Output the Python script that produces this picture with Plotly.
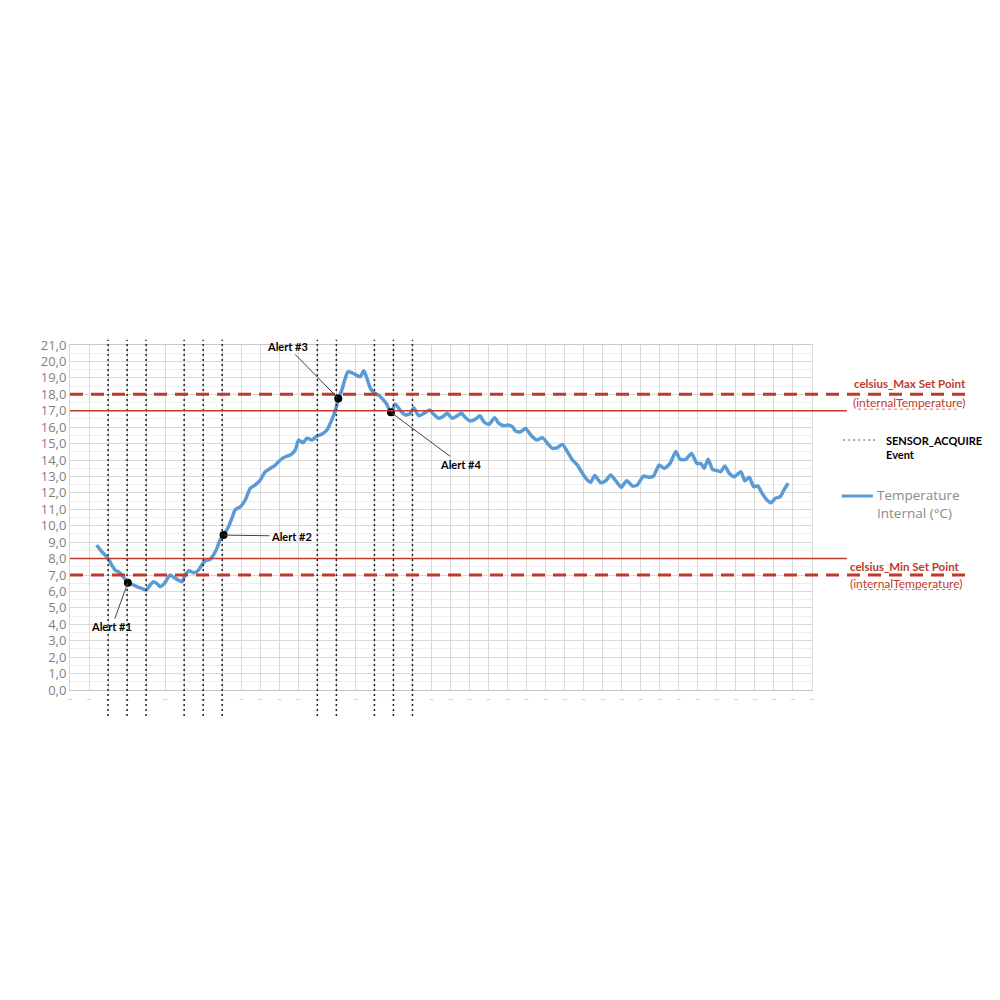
import plotly.graph_objects as go

# sample index (one gridline column per unit) and internal temperature, °C
time_idx = [
    1.40, 1.67, 1.84, 2.05, 2.19, 2.37, 2.54, 2.68, 2.86, 3.04,
    3.33, 3.60, 3.77, 4.00, 4.21, 4.39, 4.56, 4.74, 4.96, 5.26,
    5.44, 5.70, 5.88, 6.05, 6.26, 6.49, 6.72, 6.93, 7.11, 7.37,
    7.54, 7.72, 7.89, 8.07,
    8.33, 8.51, 8.68, 8.95, 9.21, 9.47, 9.74, 10.00, 10.26, 10.53,
    10.79, 11.05, 11.32, 11.58, 11.84, 12.02, 12.23, 12.46, 12.72, 12.98,
    13.25, 13.51, 13.68, 13.86, 14.00, 14.10, 14.26, 14.44, 14.61, 14.82,
    15.04, 15.26, 15.44, 15.61, 15.79, 16.02, 16.23, 16.40, 16.62, 16.87,
    17.10, 17.37, 17.63, 17.89, 18.07, 18.33, 18.60, 18.91, 19.12, 19.38,
    19.65, 19.82, 20.09, 20.35, 20.58, 20.79, 21.05, 21.32, 21.54, 21.75,
    22.02, 22.32, 22.54, 22.81, 23.02, 23.25, 23.42, 23.68, 23.95, 24.12,
    24.30, 24.56, 24.83, 25.09, 25.35, 25.62, 25.88, 26.14, 26.41, 26.67,
    26.93, 27.19, 27.37, 27.58, 27.89, 28.16, 28.42, 28.68, 28.98, 29.26,
    29.56, 29.82, 30.14, 30.39, 30.67, 30.96, 31.23, 31.54, 31.84, 32.07,
    32.37, 32.67, 32.95, 33.16, 33.33, 33.54, 33.77, 34.04, 34.21, 34.42,
    34.65, 34.91, 35.26, 35.47, 35.70, 35.93, 36.14, 36.40, 36.63, 36.84,
    37.07, 37.33, 37.54, 37.75,
]
temp_c = [
    8.83, 8.42, 8.22, 7.91, 7.61, 7.30, 7.20, 7.06, 6.80, 6.53,
    6.39, 6.25, 6.19, 6.09, 6.39, 6.59, 6.49, 6.29, 6.49, 7.00,
    6.86, 6.69, 6.59, 7.00, 7.26, 7.14, 7.26, 7.61, 7.87, 7.95,
    8.22, 8.62, 9.13, 9.43,
    9.94, 10.45, 10.96, 11.16, 11.56, 12.28, 12.48, 12.78, 13.29, 13.49,
    13.69, 14.00, 14.20, 14.30, 14.61, 15.22, 15.05, 15.32, 15.22, 15.46,
    15.58, 15.83, 16.23, 16.74, 17.24, 17.75, 18.16, 18.87, 19.37, 19.31,
    19.17, 19.07, 19.43, 18.97, 18.36, 18.06, 17.95, 17.75, 17.45, 16.90,
    17.40, 17.00, 16.74, 16.84, 17.18, 16.69, 16.84, 17.04, 16.78, 16.54,
    16.69, 16.84, 16.54, 16.69, 16.84, 16.57, 16.37, 16.49, 16.69, 16.33,
    16.17, 16.57, 16.23, 16.09, 16.13, 16.03, 15.76, 15.72, 15.92, 15.68,
    15.42, 15.22, 15.36, 15.02, 14.71, 14.75, 14.95, 14.51, 14.00, 13.69,
    13.19, 12.78, 12.64, 13.05, 12.62, 12.74, 13.09, 12.74, 12.34, 12.74,
    12.42, 12.48, 13.02, 12.95, 13.02, 13.69, 13.49, 13.79, 14.51, 14.04,
    14.04, 14.40, 13.79, 13.79, 13.49, 14.04, 13.43, 13.35, 13.29, 13.63,
    13.19, 12.98, 13.29, 12.74, 12.95, 12.38, 12.42, 11.93, 11.56, 11.40,
    11.67, 11.77, 12.21, 12.58,
]

# SENSOR_ACQUIRE events
event_idx = [2, 3, 4, 6, 7, 8, 13, 14, 16, 17, 18]

# alerts
alert_names = ["Alert #1", "Alert #2", "Alert #3", "Alert #4"]
alert_idx = [3.04, 8.07, 14.10, 16.87]
alert_temp = [6.53, 9.43, 17.75, 16.90]
alert_offsets = [(-16, 44), (68, 1), (-51, -52), (70, 52)]  # label offset in px

# set points
max_set_point = 18.0
max_clear = 17.0
min_clear = 8.0
min_set_point = 7.0

y_ticks = list(range(0, 22))
y_labels = [f"{v},0" for v in y_ticks]
x_ticks = list(range(0, 40))

RED = "#c0392b"
BLUE = "#5b9bd5"
CAL = "Lato, 'Liberation Sans', sans-serif"

fig = go.Figure()

fig.add_trace(go.Scatter(
    x=time_idx, y=temp_c, mode="lines",
    line=dict(color=BLUE, width=3.5, shape="spline", smoothing=0.6),
    name="Temperature Internal (°C)", hoverinfo="skip",
))
fig.add_trace(go.Scatter(
    x=alert_idx, y=alert_temp, mode="markers",
    marker=dict(color="black", size=8), hoverinfo="skip",
))

shapes = []
for e in event_idx:
    shapes.append(dict(type="line", xref="x", yref="paper", x0=e, x1=e, y0=-0.075, y1=1.015,
                       line=dict(color="#222222", width=1.5, dash="2px,3px")))
for v in [max_clear, min_clear]:
    shapes.append(dict(type="line", xref="paper", yref="y", x0=0, x1=1.047, y0=v, y1=v,
                       line=dict(color=RED, width=1.5)))
for v in [max_set_point, min_set_point]:
    shapes.append(dict(type="line", xref="paper", yref="y", x0=0, x1=1.21, y0=v, y1=v,
                       line=dict(color=RED, width=3, dash="13px,8px")))

# legend samples
shapes.append(dict(type="line", xref="paper", yref="paper", x0=1.042, x1=1.085, y0=0.7246, y1=0.7246,
                   line=dict(color="#555555", width=1, dash="2px,3px")))
shapes.append(dict(type="line", xref="paper", yref="paper", x0=1.040, x1=1.082, y0=0.5623, y1=0.5623,
                   line=dict(color=BLUE, width=3)))
# spell-check squiggles under (internalTemperature)
for yy in [0.814, 0.291]:
    shapes.append(dict(type="line", xref="paper", yref="paper", x0=1.062, x1=1.195, y0=yy, y1=yy,
                       line=dict(color="#e07070", width=1, dash="dot")))

annotations = []
for i, name in enumerate(alert_names):
    dx, dy = alert_offsets[i]
    annotations.append(dict(
        x=alert_idx[i], y=alert_temp[i], xref="x", yref="y", text=f"<b>{name}</b>",
        showarrow=True, arrowhead=0, arrowwidth=1, arrowcolor="#404040",
        ax=dx, ay=dy, standoff=0, font=dict(family=CAL, size=11, color="black"),
    ))


def side_text(txt, x, y, color, size=11, family=CAL):
    annotations.append(dict(x=x, y=y, xref="paper", yref="paper", text=txt, showarrow=False,
                            xanchor="left", yanchor="middle", align="left",
                            font=dict(family=family, size=size, color=color)))


side_text("<b>celsius_Max Set Point</b>", 1.054, 0.887, RED, 11.5)
side_text("(internalTemperature)", 1.053, 0.832, RED, 12)
side_text("<b>SENSOR_ACQUIRE</b><br><b>Event</b>", 1.097, 0.702, "black")
side_text("Temperature<br>Internal (°C)", 1.085, 0.538, "#8a8a8a", 13.5, "Open Sans")
side_text("<b>celsius_Min Set Point</b>", 1.049, 0.3594, RED, 11.5)
side_text("(internalTemperature)", 1.049, 0.3087, RED, 12)

fig.update_layout(
    width=1000, height=1000,
    margin=dict(l=62, r=196, t=337, b=318, autoexpand=False),
    paper_bgcolor="white", plot_bgcolor="white",
    showlegend=False,
    shapes=shapes, annotations=annotations,
)
fig.update_xaxes(
    range=[0, 39], tickvals=x_ticks, ticktext=["–"] * len(x_ticks),
    tickfont=dict(color="#c4c4c4", size=9), showgrid=True, gridcolor="#d9d9d9", gridwidth=1,
    zeroline=False, showline=True, linecolor="#c8c8c8", mirror=True, ticks="",
)
fig.update_yaxes(
    range=[0, 21], tickvals=y_ticks, ticktext=y_labels,
    tickfont=dict(family="Open Sans", color="#7f7f7f", size=13),
    showgrid=True, gridcolor="#d9d9d9", gridwidth=1,
    minor=dict(dtick=0.5, showgrid=True, gridcolor="#efefef"),
    zeroline=False, showline=True, linecolor="#d9d9d9", mirror=True, ticks="",
)

fig.write_html("out.html")
